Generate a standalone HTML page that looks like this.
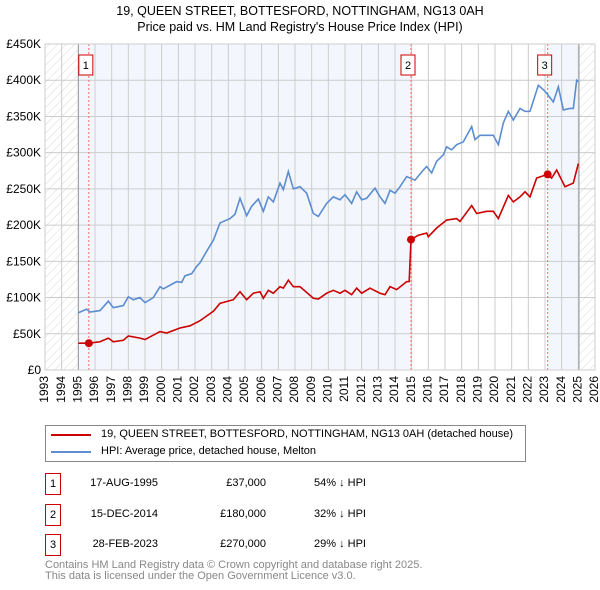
<!DOCTYPE html>
<html><head><meta charset="utf-8"><style>
body{margin:0;background:#fff;font-family:"Liberation Sans","DejaVu Sans",sans-serif;}
#wrap{position:relative;width:600px;height:590px;overflow:hidden}
.t{position:absolute;font-size:11px;color:#000;white-space:nowrap}
.box{position:absolute;border:1px solid #c00;width:14px;height:20px;font-size:11px;text-align:center;line-height:20px}
</style></head><body><div id="wrap">
<svg id="chart" width="600" height="420" style="position:absolute;left:0;top:0"></svg>
<div class="t" style="left:0;width:600px;text-align:center;top:4px;font-size:12.5px">19, QUEEN STREET, BOTTESFORD, NOTTINGHAM, NG13 0AH</div>
<div class="t" style="left:0;width:600px;text-align:center;top:20px;font-size:12.5px">Price paid vs. HM Land Registry's House Price Index (HPI)</div>
<div style="position:absolute;left:45px;top:425px;width:479px;height:35px;border:1px solid #888">
 <div style="position:absolute;left:5px;top:8px;width:40px;height:2px;background:#c00"></div>
 <div class="t" style="left:55px;top:2px">19, QUEEN STREET, BOTTESFORD, NOTTINGHAM, NG13 0AH (detached house)</div>
 <div style="position:absolute;left:5px;top:25px;width:40px;height:2px;background:#5b8dd0"></div>
 <div class="t" style="left:55px;top:19px">HPI: Average price, detached house, Melton</div>
</div>
<div>
 <div class="box" style="left:45px;top:473px">1</div>
 <div class="t" style="left:80px;width:78px;text-align:right;top:477px">17-AUG-1995</div>
 <div class="t" style="left:190px;width:76px;text-align:right;top:477px">£37,000</div>
 <div class="t" style="left:314px;top:477px">54% ↓ HPI</div>
 <div class="box" style="left:45px;top:504px">2</div>
 <div class="t" style="left:80px;width:78px;text-align:right;top:508px">15-DEC-2014</div>
 <div class="t" style="left:190px;width:76px;text-align:right;top:508px">£180,000</div>
 <div class="t" style="left:314px;top:508px">32% ↓ HPI</div>
 <div class="box" style="left:45px;top:534px">3</div>
 <div class="t" style="left:80px;width:78px;text-align:right;top:538px">28-FEB-2023</div>
 <div class="t" style="left:190px;width:76px;text-align:right;top:538px">£270,000</div>
 <div class="t" style="left:314px;top:538px">29% ↓ HPI</div>
</div>
<div class="t" style="left:45px;top:560px;color:#888;line-height:11px;font-size:11px">Contains HM Land Registry data © Crown copyright and database right 2025.<br>This data is licensed under the Open Government Licence v3.0.</div>
</div>
<script>
const hpiYears=[1995.0,1995.5,1995.7,1996.3,1996.8,1997.1,1997.7,1998.0,1998.3,1998.7,1999.0,1999.5,1999.9,2000.1,2000.9,2001.2,2001.4,2001.8,2002.1,2002.3,2002.7,2003.1,2003.5,2004.1,2004.4,2004.7,2005.1,2005.4,2005.8,2006.1,2006.4,2006.7,2007.1,2007.3,2007.6,2007.9,2008.3,2008.7,2009.1,2009.4,2009.9,2010.3,2010.7,2011.0,2011.4,2011.7,2012.0,2012.3,2012.8,2013.1,2013.4,2013.7,2014.0,2014.3,2014.7,2015.2,2015.7,2015.9,2016.2,2016.5,2016.9,2017.1,2017.4,2017.7,2018.1,2018.6,2018.8,2019.1,2019.9,2020.2,2020.5,2020.8,2021.1,2021.5,2021.8,2022.1,2022.6,2022.9,2023.1,2023.5,2023.8,2024.1,2024.5,2024.7,2024.9,2025.0];
const hpiValues=[79,84,80,82,95,86,89,101,97,100,93,100,115,112,122,121,130,133,143,148,164,179,203,209,215,237,213,226,236,219,239,232,258,249,274,250,253,244,216,212,230,239,235,242,230,246,235,237,251,239,230,248,244,253,267,262,276,281,272,288,297,308,304,311,315,336,318,324,324,311,341,357,345,361,357,357,393,387,382,370,391,359,361,361,400,398];
const ppYears=[1995.0,1995.63,1996.3,1996.8,1997.1,1997.7,1998.0,1998.7,1999.0,1999.9,2000.3,2001.1,2001.7,2002.3,2003.1,2003.5,2004.3,2004.7,2005.1,2005.5,2005.9,2006.1,2006.4,2006.7,2007.1,2007.3,2007.6,2007.9,2008.3,2009.1,2009.4,2009.9,2010.3,2010.7,2011.0,2011.4,2011.7,2012.0,2012.5,2013.1,2013.4,2013.7,2014.1,2014.7,2014.85,2014.96,2015.4,2015.9,2016.0,2016.5,2017.1,2017.7,2017.9,2018.6,2018.9,2019.5,2019.9,2020.2,2020.8,2021.1,2021.5,2021.8,2022.1,2022.5,2023.16,2023.4,2023.7,2024.2,2024.7,2025.0];
const ppValues=[37,37,39,44,39,41,47,44,42,53,51,58,61,68,81,92,97,108,97,106,108,99,110,106,115,113,124,115,115,99,98,106,110,106,110,104,113,106,113,106,104,115,111,122,122,180,186,189,184,196,207,209,205,227,216,219,219,209,241,232,239,246,239,265,270,265,276,253,258,285];
const saleYears=[1995.63,2014.96,2023.16];
const saleValues=[37,180,270];
const saleLabels=["1","2","3"];
const yTicks=[0,50,100,150,200,250,300,350,400,450];
const yTickLabels=["£0","£50K","£100K","£150K","£200K","£250K","£300K","£350K","£400K","£450K"];
const xStart=1993,xEnd=2026;
const L=45,R=595,T=44,B=370;
const X=y=>L+(y-xStart)*(R-L)/(xEnd-xStart);
const Y=v=>B-v*(B-T)/450;
const svg=document.getElementById('chart');
const NS='http://www.w3.org/2000/svg';
function mk(tag,attrs,parent){const e=document.createElementNS(NS,tag);for(const k in attrs)e.setAttribute(k,attrs[k]);(parent||svg).appendChild(e);return e;}
const defs=mk('defs',{});
const pat=mk('pattern',{id:'hatch',width:6,height:6,patternUnits:'userSpaceOnUse',patternTransform:'rotate(45)'},defs);
mk('line',{x1:0,y1:0,x2:0,y2:6,stroke:'#d8d8d8','stroke-width':1},pat);
let r;
r=mk('rect',{x:L,y:T,width:R-L,height:B-T,fill:'#fff'});


r=mk('rect',{x:X(1995),y:T,width:X(saleYears[1])-X(1995),height:B-T,fill:'#eef3fc',opacity:0.7});


r=mk('rect',{x:X(saleYears[2]),y:T,width:X(2025.04)-X(saleYears[2]),height:B-T,fill:'#eef3fc',opacity:0.7});


r=mk('rect',{x:L,y:T,width:X(1995)-L,height:B-T,fill:'url(#hatch)'});


r=mk('rect',{x:X(2025.04),y:T,width:R-X(2025.04),height:B-T,fill:'url(#hatch)'});


for(let yr=xStart;yr<=xEnd;yr++){
 const l=mk('line',{x1:X(yr),x2:X(yr),y1:T,y2:B,stroke:'#ccc','stroke-width':1});
 
 
 const t=mk('text',{x:0,y:0,'font-size':12,'text-anchor':'end','dominant-baseline':'middle',transform:`translate(${X(yr)},${B+6}) rotate(-90)`,'font-family':'Liberation Sans, sans-serif'});
 t.textContent=yr;
 
 
}
yTicks.forEach((v,i)=>{
 const l=mk('line',{x1:L,x2:R,y1:Y(v),y2:Y(v),stroke:'#ccc','stroke-width':1});
 
 
 const t=mk('text',{x:L-4,y:Y(v)+4,'font-size':12,'text-anchor':'end','font-family':'Liberation Sans, sans-serif'});
 t.textContent=yTickLabels[i];
 
 
});
r=mk('line',{x1:X(1995),x2:X(1995),y1:T,y2:B,stroke:'#999','stroke-width':1});


r=mk('line',{x1:X(2025.04),x2:X(2025.04),y1:T,y2:B,stroke:'#999','stroke-width':1});


saleYears.forEach((yr,i)=>{
 const l=mk('line',{x1:X(yr),x2:X(yr),y1:T,y2:B,stroke:'#f66','stroke-width':1,'stroke-dasharray':'2,2'});
 
 
 const bx=mk('rect',{x:X(yr)-10,y:55,width:14,height:20,fill:'#fff',stroke:'#c00','stroke-width':1});
 
 
 const t=mk('text',{x:X(yr)-3,y:69,'font-size':11,'text-anchor':'middle','font-family':'Liberation Sans, sans-serif'});
 t.textContent=saleLabels[i];
 
 
});
let p=mk('polyline',{points:hpiYears.map((y,i)=>X(y)+','+Y(hpiValues[i])).join(' '),fill:'none',stroke:'#5b8dd0','stroke-width':1.6});


p=mk('polyline',{points:ppYears.map((y,i)=>X(y)+','+Y(ppValues[i])).join(' '),fill:'none',stroke:'#c00','stroke-width':1.6});


saleYears.forEach((yr,i)=>{
 const c=mk('circle',{cx:X(yr),cy:Y(saleValues[i]),r:4,fill:'#c00'});
 
 
});
r=mk('rect',{x:L,y:T,width:R-L,height:B-T,fill:'none',stroke:'#ccc','stroke-width':1});


</script>
</body></html>
